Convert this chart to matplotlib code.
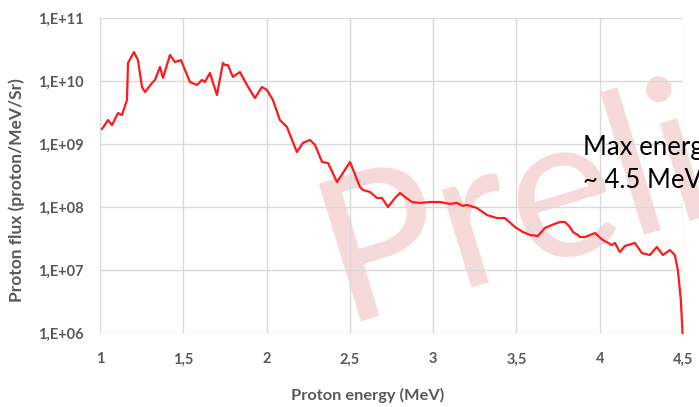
import matplotlib
matplotlib.use("Agg")
import matplotlib.pyplot as plt
from matplotlib.ticker import FixedLocator

energy_mev = [1.012, 1.048, 1.072, 1.108, 1.132, 1.162, 1.168, 1.204, 1.228, 1.252,
              1.270, 1.312, 1.330, 1.360, 1.378, 1.420, 1.450, 1.486, 1.540, 1.582,
              1.612, 1.630, 1.660, 1.702, 1.738, 1.750, 1.768, 1.798, 1.840, 1.882,
              1.930, 1.972, 2.002, 2.038, 2.080, 2.122, 2.182, 2.218, 2.261, 2.291,
              2.333, 2.369, 2.423, 2.501, 2.561, 2.579, 2.621, 2.663, 2.693, 2.729,
              2.771, 2.801, 2.831, 2.873, 2.921, 2.981, 3.041, 3.101, 3.143, 3.179,
              3.203, 3.263, 3.323, 3.383, 3.431, 3.491, 3.539, 3.581, 3.629, 3.671,
              3.713, 3.761, 3.791, 3.821, 3.839, 3.869, 3.881, 3.911, 3.971, 4.019,
              4.073, 4.091, 4.121, 4.151, 4.211, 4.253, 4.301, 4.343, 4.379, 4.421,
              4.451, 4.469, 4.487, 4.497]
proton_flux = [1.73e9, 2.40e9, 2.00e9, 3.10e9, 2.88e9, 4.99e9, 1.93e10, 2.88e10, 2.15e10, 8.04e9,
               6.68e9, 9.29e9, 1.04e10, 1.67e10, 1.12e10, 2.59e10, 2.00e10, 2.15e10, 9.64e9, 8.65e9,
               1.04e10, 9.64e9, 1.34e10, 6.00e9, 1.93e10, 1.79e10, 1.79e10, 1.16e10, 1.39e10, 8.65e9,
               5.37e9, 8.04e9, 7.19e9, 4.99e9, 2.40e9, 1.86e9, 7.46e8, 1.04e9, 1.16e9, 9.64e8,
               5.18e8, 4.99e8, 2.49e8, 5.18e8, 2.07e8, 1.86e8, 1.73e8, 1.39e8, 1.39e8, 1.00e8,
               1.39e8, 1.67e8, 1.44e8, 1.20e8, 1.16e8, 1.20e8, 1.20e8, 1.12e8, 1.16e8, 1.04e8,
               1.08e8, 9.64e7, 7.46e7, 6.68e7, 6.68e7, 4.82e7, 4.01e7, 3.60e7, 3.47e7, 4.65e7,
               5.18e7, 5.78e7, 5.78e7, 4.82e7, 4.01e7, 3.60e7, 3.34e7, 3.34e7, 3.86e7, 2.99e7,
               2.49e7, 2.69e7, 1.93e7, 2.40e7, 2.69e7, 1.86e7, 1.73e7, 2.32e7, 1.73e7, 2.07e7,
               1.73e7, 1.00e7, 3.34e6, 1.00e6]

x_ticks = [1, 1.5, 2, 2.5, 3, 3.5, 4, 4.5]
x_tick_labels = ["1", "1,5", "2", "2,5", "3", "3,5", "4", "4,5"]
y_ticks = [1e6, 1e7, 1e8, 1e9, 1e10, 1e11]
y_tick_labels = ["1,E+06", "1,E+07", "1,E+08", "1,E+09", "1,E+10", "1,E+11"]

x_label = "Proton energy (MeV)"
y_label = "Proton flux (proton/MeV/Sr)"
annotation_lines = ["Max energy", "~ 4.5 MeV"]
watermark = "Preliminary"

plt.rcParams["font.family"] = ["Lato", "DejaVu Sans"]
gray = "#595959"

fig = plt.figure(figsize=(6.99, 4.07), dpi=100)
ax = fig.add_axes([100 / 699, 1 - 333 / 407, 583 / 699, 315 / 407])
ax.patch.set_visible(False)

ax.set_yscale("log")
ax.set_xlim(x_ticks[0], x_ticks[-1])
ax.set_ylim(y_ticks[0], y_ticks[-1])

ax.xaxis.set_major_locator(FixedLocator(x_ticks))
ax.set_xticklabels(x_tick_labels)
ax.yaxis.set_major_locator(FixedLocator(y_ticks))
ax.yaxis.set_minor_locator(FixedLocator([]))
ax.set_yticklabels(y_tick_labels)

ax.grid(True, which="major", color="#d9d9d9", linewidth=1.0, zorder=0.5)
ax.set_axisbelow(True)
for s in ax.spines.values():
    s.set_visible(False)
ax.tick_params(axis="both", which="both", length=0, labelsize=10.5, labelcolor=gray)
ax.tick_params(axis="x", pad=14)
ax.tick_params(axis="y", pad=12)
for lab in ax.get_xticklabels() + ax.get_yticklabels():
    lab.set_fontweight("bold")

ax.text(342 / 699, 1 - 322 / 407, watermark, transform=fig.transFigure,
        fontsize=145, fontweight="normal", color="#f6dada",
        rotation=17, rotation_mode="anchor", ha="left", va="baseline",
        zorder=0.1, clip_on=False)

ax.plot(energy_mev, proton_flux, color="#ff1a1a", linewidth=1.6, zorder=3, clip_on=False)

fig.text(368 / 699, 1 - 395 / 407, x_label, ha="center", va="center",
         fontsize=11.8, fontweight="bold", color=gray)
fig.text(17 / 699, 1 - 190 / 407, y_label, ha="center", va="center", rotation=90,
         fontsize=12.5, fontweight="bold", color=gray)

fig.text(583 / 699, 1 - 155 / 407, annotation_lines[0], ha="left", va="baseline",
         fontsize=18.5, color="black")
fig.text(583 / 699, 1 - 188 / 407, annotation_lines[1], ha="left", va="baseline",
         fontsize=18.5, color="black")

fig.savefig("out.png", dpi=100)
